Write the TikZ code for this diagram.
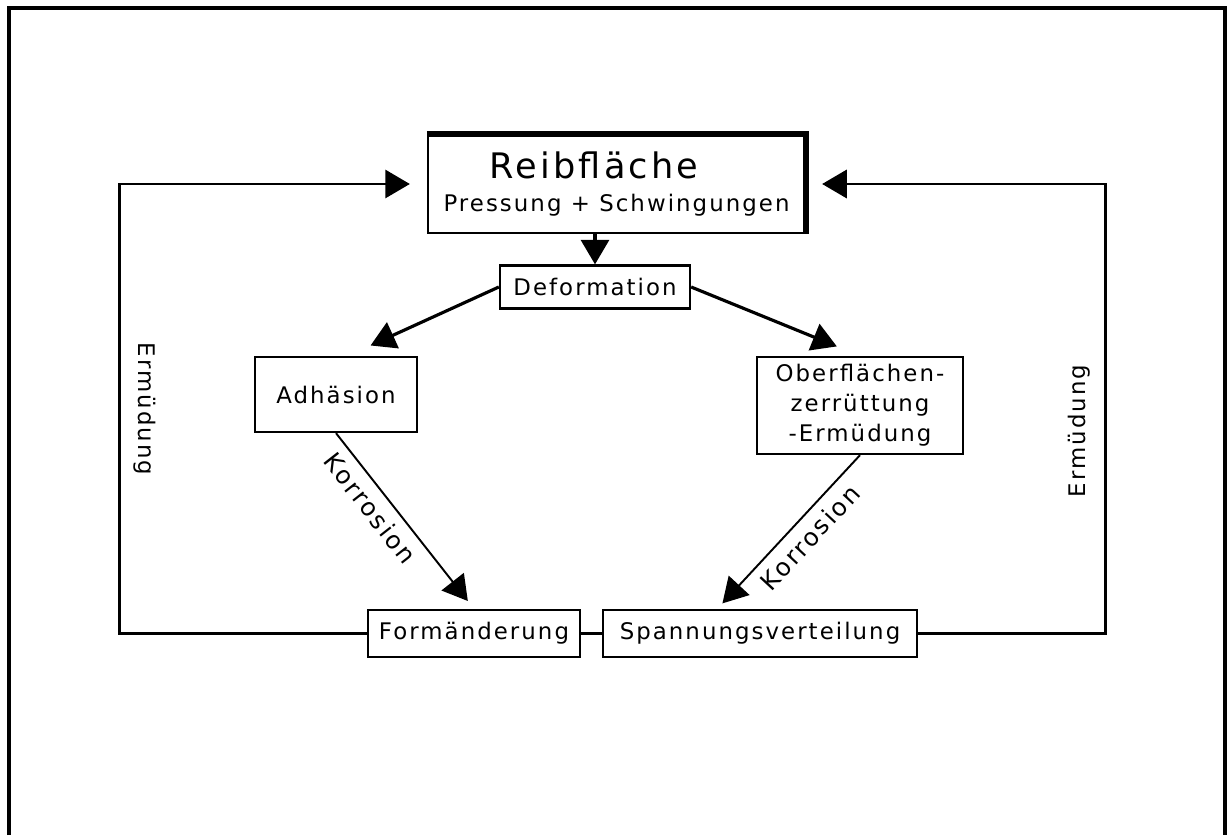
\documentclass[tikz,border=0pt]{standalone}
\usepackage{fontspec}
\setmainfont{DejaVu Sans}[LetterSpace=9]
\usetikzlibrary{arrows.meta,positioning}
\tikzset{
  box/.style={draw, line width=1.3pt, font=\fontsize{13}{17}\selectfont, align=center, inner sep=0pt},
  titlebox/.style={box, minimum width=7.54cm, minimum height=1.96cm},
  shadeline/.style={line width=3.2pt},
  tip/.style={-{Triangle[length=14pt,width=16pt]}},
  defarrow/.style={tip, line width=1.8pt},
  korr/.style={tip, line width=1.1pt},
  loopline/.style={tip, line width=1.6pt},
  link/.style={line width=1.6pt},
  lbl/.style={font=\fontsize{13}{15}\selectfont, inner sep=2pt},
  korrlbl/.style={font=\fontsize{14}{16}\selectfont, inner sep=5pt},
  frameline/.style={line width=2.3pt}
}

\begin{document}
\begin{tikzpicture}
  \useasboundingbox (0,0) rectangle (24.56,16.70);
  \draw[frameline] (0.18,0) |- (24.5,16.54) -- (24.5,0);
  % boxes
  \node[titlebox] (reib) at (12.33,13.02)
    {{\fontsize{20}{26}\selectfont Reibfläche}\hspace*{0.9cm}\\[2pt]Pressung + Schwingungen};
  \draw[shadeline] (reib.north west) -- (reib.north east) -- (reib.south east);
  \node[box, minimum width=3.8cm, minimum height=0.86cm] (deform) at (11.9,10.96) {Deformation};
  \node[box, minimum width=3.24cm, minimum height=1.5cm] (adh) at (6.72,8.81) {Adhäsion};
  \node[box, minimum width=4.12cm, minimum height=1.94cm] (ober) at (17.2,8.59)
    {Oberflächen-\\zerrüttung\\-Ermüdung};
  \node[box, minimum width=4.24cm, minimum height=0.94cm] (form) at (9.48,4.03) {Formänderung};
  \node[box, minimum width=6.28cm, minimum height=0.94cm] (spann) at (15.2,4.03) {Spannungsverteilung};
  % arrows
  \draw[defarrow] (deform.north |- reib.south) -- (deform.north);
  \draw[defarrow, shorten >=0.5cm] (deform.west) -- (adh.73);
  \draw[defarrow, shorten >=0.5cm] (deform.east) -- (ober.north);
  \draw[korr, shorten >=0.2cm] (adh.south) -- (form.north)
    node[korrlbl, sloped, pos=0.36, below] (korrl) {Korrosion};
  \draw[korr, shorten >=0.15cm] (ober.south) -- (spann.150)
    node[korrlbl, sloped, pos=0.45, below] (korrr) {Korrosion};
  \draw[link] (form.east) -- (spann.west);
  % feedback loops
  \draw[loopline, shorten >=0.34cm] (form.west) -- ++(-4.94,0) |- (reib.west);
  \draw[loopline, shorten >=0.32cm] (spann.east) -- ++(3.74,0) |- (reib.east);
  \node[lbl, rotate=-90] (erml) at (2.9,8.52) {Ermüdung};
  \node[lbl, rotate=90] (ermr) at (21.58,8.08) {Ermüdung};
\end{tikzpicture}
\end{document}
